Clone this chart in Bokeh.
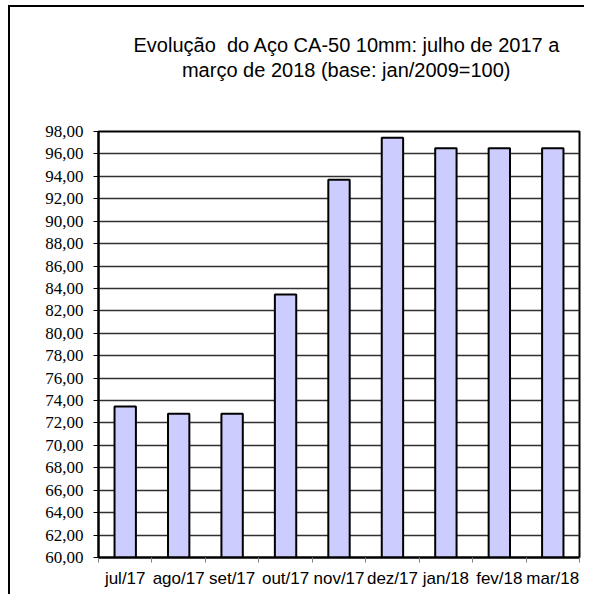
from bokeh.plotting import figure
from bokeh.models import FixedTicker, Range1d, Title
from bokeh.embed import file_html
from bokeh.resources import INLINE

# ---- data ----
categories = ["jul/17", "ago/17", "set/17", "out/17", "nov/17", "dez/17", "jan/18", "fev/18", "mar/18"]
values = [73.47, 72.82, 72.82, 83.46, 93.69, 97.44, 96.51, 96.51, 96.51]
y_ticks = [60, 62, 64, 66, 68, 70, 72, 74, 76, 78, 80, 82, 84, 86, 88, 90, 92, 94, 96, 98]
title_lines = ["Evolução\u00a0 do Aço CA-50 10mm: julho de 2017 a", "março de 2018 (base: jan/2009=100)"]
baseline = 60

n = len(categories)
x_centers = [i + 0.5 for i in range(n)]

p = figure(width=576, height=589, output_backend="svg", toolbar_location=None,
           x_range=Range1d(0, n), y_range=Range1d(y_ticks[0], y_ticks[-1]),
           min_border_left=88, min_border_right=7, min_border_top=124, min_border_bottom=39)
p.margin = (5, 0, 0, 8)
p.styles = {"border-left": "2px solid black", "border-top": "2px solid black"}

p.vbar(x=x_centers, top=values, bottom=baseline, width=0.4,
       fill_color="#CCCCFF", line_color="black", line_width=2)

# frame
p.outline_line_color = "black"
p.outline_line_width = 2
p.outline_line_alpha = 1

# grid
p.xgrid.grid_line_color = None
p.ygrid.ticker = FixedTicker(ticks=y_ticks)
p.ygrid.grid_line_color = "#303030"
p.ygrid.grid_line_width = 1.5

# y axis
yax = p.yaxis[0]
yax.ticker = FixedTicker(ticks=y_ticks)
yax.major_label_overrides = {v: f"{v:.2f}".replace(".", ",") for v in y_ticks}
yax.major_label_text_font = "Liberation Serif"
yax.major_label_text_font_size = "17px"
yax.major_label_text_color = "black"
yax.axis_line_color = "black"
yax.axis_line_width = 2
yax.major_tick_out = 5
yax.major_tick_in = 0
yax.major_tick_line_color = "black"
yax.minor_tick_line_color = None
yax.major_label_standoff = 10

# x axis
xax = p.xaxis[0]
xax.ticker = FixedTicker(ticks=x_centers, minor_ticks=list(range(n + 1)))
xax.major_label_overrides = {c: lab for c, lab in zip(x_centers, categories)}
xax.major_label_text_font = "Liberation Sans"
xax.major_label_text_font_size = "17px"
xax.major_label_text_color = "black"
xax.axis_line_color = "black"
xax.axis_line_width = 2
xax.major_tick_line_color = None
xax.major_tick_out = 0
xax.major_tick_in = 0
xax.minor_tick_line_color = "#808080"
xax.minor_tick_out = 5
xax.minor_tick_in = 0
xax.major_label_standoff = 6

# title: one block; second line indented so both lines look centred,
# two blank (non-breaking) lines below lift the text towards the top
indent = "\u00a0" * 8 + "\u2009"
title_text = "\n".join([title_lines[0], indent + title_lines[1], "\u00a0", "\u00a0"])
p.add_layout(Title(text=title_text, align="left", offset=35, standoff=0,
                   text_font="Liberation Sans", text_font_size="20px",
                   text_font_style="normal", text_color="black", text_line_height=1.15), "above")

open("out.html", "w").write(file_html(p, INLINE))
